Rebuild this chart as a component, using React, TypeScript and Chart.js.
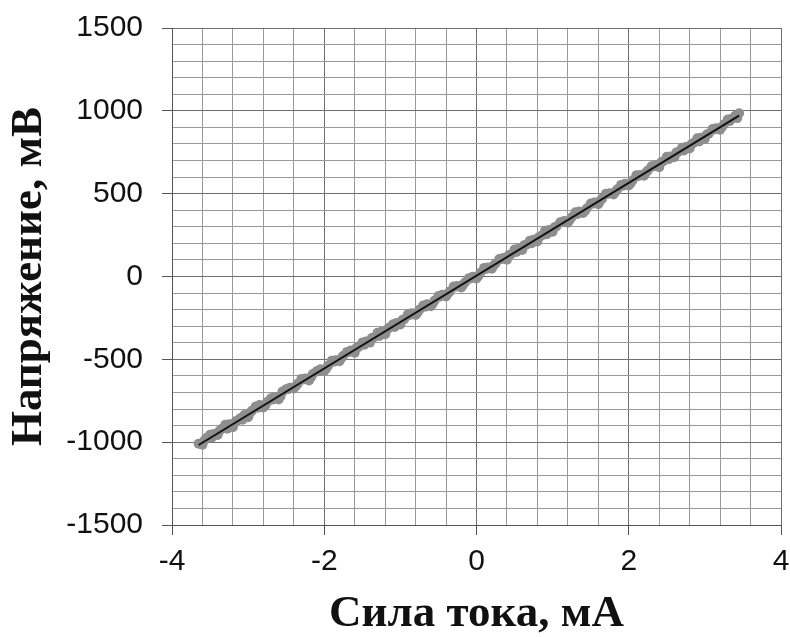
import React, { useEffect, useRef } from "react";
import { Chart, registerables } from "chart.js";

Chart.register(...registerables);

// Measured current (mA), run A
const currentA: number[] = [
  -3.65, -3.55, -3.45, -3.35, -3.25, -3.15, -3.05, -2.95, -2.85, -2.75, -2.65, -2.55,
  -2.45, -2.35, -2.25, -2.15, -2.05, -1.95, -1.85, -1.75, -1.65, -1.55, -1.45, -1.35,
  -1.25, -1.15, -1.05, -0.95, -0.85, -0.75, -0.65, -0.55, -0.45, -0.35, -0.25, -0.15,
  -0.05, 0.05, 0.15, 0.25, 0.35, 0.45, 0.55, 0.65, 0.75, 0.85, 0.95, 1.05,
  1.15, 1.25, 1.35, 1.45, 1.55, 1.65, 1.75, 1.85, 1.95, 2.05, 2.15, 2.25,
  2.35, 2.45, 2.55, 2.65, 2.75, 2.85, 2.95, 3.05, 3.15, 3.25, 3.35, 3.45,
];
// Measured voltage (mV), run A
const voltageA: number[] = [
  -1010, -975, -950, -921, -892, -870, -836, -810, -776, -758, -728, -695,
  -672, -648, -615, -588, -560, -538, -506, -478, -446, -425, -392, -368,
  -334, -310, -280, -258, -222, -200, -168, -145, -110, -90, -58, -35,
  -2, 22, 55, 78, 112, 133, 168, 190, 222, 246, 280, 302,
  335, 358, 392, 412, 446, 470, 502, 526, 560, 580, 612, 640,
  672, 694, 725, 752, 782, 806, 838, 862, 895, 918, 952, 985,
];
// Measured current (mA), run B
const currentB: number[] = [
  -3.6, -3.5, -3.4, -3.3, -3.2, -3.1, -3.0, -2.9, -2.8, -2.7, -2.6, -2.5,
  -2.4, -2.3, -2.2, -2.1, -2.0, -1.9, -1.8, -1.7, -1.6, -1.5, -1.4, -1.3,
  -1.2, -1.1, -1.0, -0.9, -0.8, -0.7, -0.6, -0.5, -0.4, -0.3, -0.2, -0.1,
  0.0, 0.1, 0.2, 0.3, 0.4, 0.5, 0.6, 0.7, 0.8, 0.9, 1.0, 1.1,
  1.2, 1.3, 1.4, 1.5, 1.6, 1.7, 1.8, 1.9, 2.0, 2.1, 2.2, 2.3,
  2.4, 2.5, 2.6, 2.7, 2.8, 2.9, 3.0, 3.1, 3.2, 3.3, 3.4,
];
// Measured voltage (mV), run B
const voltageB: number[] = [
  -1015, -955, -957, -895, -910, -855, -850, -785, -790, -735, -742, -680,
  -676, -618, -628, -572, -570, -508, -512, -455, -460, -398, -399, -340,
  -348, -290, -290, -228, -232, -175, -180, -118, -120, -60, -66, -10,
  -12, 52, 47, 106, 101, 163, 160, 216, 212, 276, 270, 328,
  325, 388, 384, 441, 436, 499, 495, 553, 549, 611, 608, 665,
  660, 723, 720, 777, 773, 835, 831, 890, 886, 947, 970,
];
// Measured current (mA), run C
const currentC: number[] = [
  -3.575, -3.475, -3.375, -3.275, -3.175, -3.075, -2.975, -2.875, -2.775, -2.675, -2.575, -2.475,
  -2.375, -2.275, -2.175, -2.075, -1.975, -1.875, -1.775, -1.675, -1.575, -1.475, -1.375, -1.275,
  -1.175, -1.075, -0.975, -0.875, -0.775, -0.675, -0.575, -0.475, -0.375, -0.275, -0.175, -0.075,
  0.025, 0.125, 0.225, 0.325, 0.425, 0.525, 0.625, 0.725, 0.825, 0.925, 1.025, 1.125,
  1.225, 1.325, 1.425, 1.525, 1.625, 1.725, 1.825, 1.925, 2.025, 2.125, 2.225, 2.325,
  2.425, 2.525, 2.625, 2.725, 2.825, 2.925, 3.025, 3.125, 3.225, 3.325, 3.425,
];
// Measured voltage (mV), run C
const voltageC: number[] = [
  -990, -972, -931, -919, -881, -865, -823, -792, -778, -742, -724, -681,
  -663, -622, -609, -572, -557, -514, -494, -456, -430, -412, -371, -359,
  -321, -305, -263, -232, -218, -182, -164, -121, -103, -62, -49, -12,
  3, 46, 66, 104, 130, 148, 189, 201, 239, 255, 297, 328,
  342, 378, 396, 439, 457, 498, 511, 548, 563, 606, 626, 664,
  690, 708, 749, 761, 799, 815, 857, 888, 902, 938, 956,
];
// Linear fit line end points
const fitX: number[] = [-3.65, 3.45];
const fitY: number[] = [-1017, 971];

const xMin = -4, xMax = 4, xStep = 0.4, xMajor = 2;
const yMin = -1500, yMax = 1500, yStep = 100, yMajor = 500;

const isMajor = (v: number, m: number) => Math.abs(Math.round(v / m) * m - v) < 1e-6;

const pointStyle = {
  backgroundColor: "#8e8e8e",
  borderColor: "#8e8e8e",
  borderWidth: 0,
  pointRadius: 5,
  order: 2,
};

export default function App() {
  const ref = useRef<HTMLCanvasElement | null>(null);
  useEffect(() => {
    document.body.style.margin = "0";
    const canvas = ref.current!;
    const chart = new Chart(canvas, {
      type: "scatter",
      data: {
        datasets: [
          { label: "A", data: currentA.map((x, i) => ({ x, y: voltageA[i] })), ...pointStyle },
          { label: "B", data: currentB.map((x, i) => ({ x, y: voltageB[i] })), ...pointStyle },
          { label: "C", data: currentC.map((x, i) => ({ x, y: voltageC[i] })), ...pointStyle },
          {
            label: "fit",
            type: "line",
            data: fitX.map((x, i) => ({ x, y: fitY[i] })),
            borderColor: "#111111",
            borderWidth: 2,
            pointRadius: 0,
            showLine: true,
            fill: false,
            order: 1,
          } as any,
        ],
      },
      options: {
        animation: false,
        responsive: false,
        devicePixelRatio: 1,
        layout: { padding: { top: 28, right: 9, left: 0, bottom: 0 } },
        plugins: { legend: { display: false }, tooltip: { enabled: false } },
        scales: {
          x: {
            type: "linear",
            min: xMin,
            max: xMax,
            afterFit: (s: any) => {
              s.height = 112;
              s.paddingLeft = 0;
              s.paddingRight = 0;
            },
            ticks: {
              stepSize: xStep,
              autoSkip: false,
              maxRotation: 0,
              padding: 9,
              color: "#111",
              font: { family: "'Liberation Sans', Arial, sans-serif", size: 30 },
              callback: (v: any) => (isMajor(Number(v), xMajor) ? String(Math.round(Number(v))) : ""),
            },
            grid: {
              color: (c: any) => (isMajor(c.tick?.value ?? 0, xMajor) ? "#707070" : "#9a9a9a"),
              tickColor: (c: any) => (isMajor(c.tick?.value ?? 0, xMajor) ? "#555" : "rgba(0,0,0,0)"),
              tickLength: 10,
              lineWidth: 1,
            },
            border: { color: "#555", width: 1 },
            title: {
              display: true,
              text: "Сила тока, мА",
              color: "#111",
              font: { family: "'Liberation Serif', 'Times New Roman', serif", size: 45, weight: "bold" },
              padding: { top: 0, bottom: -4 },
            },
          },
          y: {
            type: "linear",
            min: yMin,
            max: yMax,
            afterFit: (s: any) => {
              s.width = 172;
              s.paddingTop = 0;
              s.paddingBottom = 0;
            },
            ticks: {
              stepSize: yStep,
              autoSkip: false,
              padding: 19,
              color: "#111",
              font: { family: "'Liberation Sans', Arial, sans-serif", size: 30 },
              callback: (v: any) => (isMajor(Number(v), yMajor) ? String(Math.round(Number(v))) : ""),
            },
            grid: {
              color: (c: any) => (isMajor(c.tick?.value ?? 0, yMajor) ? "#707070" : "#9a9a9a"),
              tickColor: (c: any) => (isMajor(c.tick?.value ?? 0, yMajor) ? "#555" : "rgba(0,0,0,0)"),
              tickLength: 10,
              lineWidth: 1,
            },
            border: { color: "#555", width: 1 },
            title: {
              display: true,
              text: "Напряжение, мВ",
              color: "#111",
              font: { family: "'Liberation Serif', 'Times New Roman', serif", size: 45, weight: "bold" },
              padding: { top: 2, bottom: 0 },
            },
          },
        },
      },
    });
    return () => chart.destroy();
  }, []);
  return <canvas ref={ref} width={790} height={637} style={{ display: "block" }} />;
}
